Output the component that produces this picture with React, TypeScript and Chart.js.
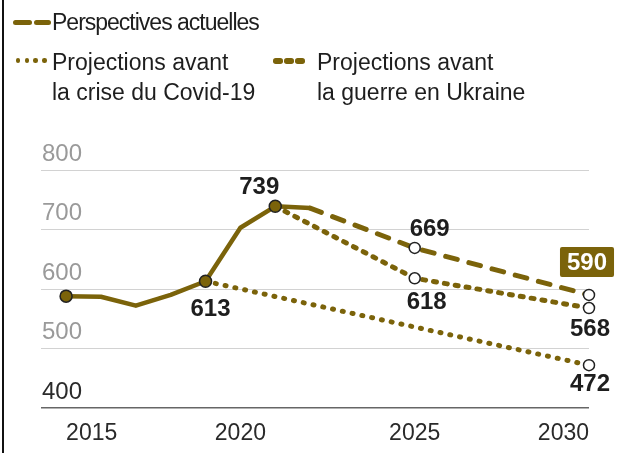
import React, { useEffect, useRef } from "react";
import { Chart, registerables } from "chart.js";

Chart.register(...registerables);

// ---------- data ----------
const historyYears = [2015, 2016, 2017, 2018, 2019, 2020, 2021, 2022];
const historyValues = [588, 587, 572, 590, 613, 703, 739, 736];
const currentYears = [2022, 2025, 2030];
const currentValues = [736, 669, 590];
const ukraineYears = [2021, 2025, 2030];
const ukraineValues = [739, 618, 568];
const covidYears = [2019, 2030];
const covidValues = [613, 472];
const xTickValues = [2015, 2020, 2025, 2030];
const yTickValues = [400, 500, 600, 700, 800];
const legendCurrent = "Perspectives actuelles";
const legendCovid = ["Projections avant", "la crise du Covid-19"];
const legendUkraine = ["Projections avant", "la guerre en Ukraine"];

// ---------- styles ----------
const OLIVE = "#7b630a";
const FONT = "'Liberation Sans', Arial, sans-serif";

// value labels: dataset index, point index, offsets, boxed
const labelDefs = [
  { ds: 0, i: 6, dx: -16, dy: -20, boxed: false },
  { ds: 0, i: 4, dx: 5, dy: 27, boxed: false },
  { ds: 1, i: 1, dx: 15, dy: -20, boxed: false },
  { ds: 2, i: 1, dx: 12, dy: 23, boxed: false },
  { ds: 1, i: 2, dx: -2, dy: -33, boxed: true },
  { ds: 2, i: 2, dx: 1, dy: 20, boxed: false },
  { ds: 3, i: 1, dx: 1, dy: 18, boxed: false },
];

const valueLabelPlugin = {
  id: "valueLabels",
  afterDatasetsDraw(chart: any) {
    const ctx = chart.ctx;
    ctx.save();
    ctx.font = `bold 24px ${FONT}`;
    ctx.textAlign = "center";
    ctx.textBaseline = "middle";
    for (const d of labelDefs) {
      const meta = chart.getDatasetMeta(d.ds);
      const el = meta.data[d.i];
      const raw: any = chart.data.datasets[d.ds].data[d.i];
      const text = String(raw.y);
      const x = el.x + d.dx;
      const y = el.y + d.dy;
      if (d.boxed) {
        const w = ctx.measureText(text).width + 14;
        const h = 30;
        ctx.fillStyle = OLIVE;
        ctx.beginPath();
        (ctx as any).roundRect ? (ctx as any).roundRect(x - w / 2, y - h / 2, w, h, 2) : ctx.rect(x - w / 2, y - h / 2, w, h);
        ctx.fill();
        ctx.fillStyle = "#ffffff";
        ctx.fillText(text, x, y + 1);
      } else {
        ctx.fillStyle = "#1e1e1e";
        ctx.fillText(text, x, y + 1);
      }
    }
    ctx.restore();
  },
};

function pts(xs: number[], ys: number[]) {
  return xs.map((x, k) => ({ x, y: ys[k] }));
}

export default function App() {
  const ref = useRef<HTMLCanvasElement | null>(null);

  useEffect(() => {
    if (!ref.current) return;
    const chart = new Chart(ref.current, {
      type: "line",
      data: {
        datasets: [
          {
            label: "Historique",
            data: pts(historyYears, historyValues),
            borderColor: OLIVE,
            borderWidth: 4.5,
            tension: 0,
            clip: false,
            borderJoinStyle: "round",
            pointRadius: [6, 0, 0, 0, 6, 0, 6, 0],
            pointBackgroundColor: OLIVE,
            pointBorderColor: "#222",
            pointBorderWidth: 1.5,
          },
          {
            label: legendCurrent,
            data: pts(currentYears, currentValues),
            borderColor: OLIVE,
            borderWidth: 5,
            borderDash: [12, 12],
            borderCapStyle: "round",
            tension: 0,
            clip: false,
            pointRadius: [0, 5.5, 5.5],
            pointBackgroundColor: "#fff",
            pointBorderColor: "#222",
            pointBorderWidth: 1.5,
          },
          {
            label: legendUkraine.join(" "),
            data: pts(ukraineYears, ukraineValues),
            borderColor: OLIVE,
            borderWidth: 5,
            borderDash: [3, 8],
            borderCapStyle: "round",
            tension: 0,
            clip: false,
            pointRadius: [0, 5.5, 5.5],
            pointBackgroundColor: "#fff",
            pointBorderColor: "#222",
            pointBorderWidth: 1.5,
          },
          {
            label: legendCovid.join(" "),
            data: pts(covidYears, covidValues),
            borderColor: OLIVE,
            borderWidth: 5,
            borderDash: [1, 9],
            borderCapStyle: "round",
            tension: 0,
            clip: false,
            pointRadius: [0, 5.5],
            pointBackgroundColor: "#fff",
            pointBorderColor: "#222",
            pointBorderWidth: 1.5,
          },
        ],
      },
      options: {
        animation: false,
        responsive: false,
        layout: { padding: { top: 170, left: 39, right: 31, bottom: 0 } },
        plugins: { legend: { display: false }, tooltip: { enabled: false } },
        scales: {
          x: {
            type: "linear",
            min: 2014.28,
            max: 2030,
            afterBuildTicks: (s: any) => {
              s.ticks = xTickValues.map((v) => ({ value: v }));
            },
            afterFit: (s: any) => {
              s.height = 45;
            },
            grid: { display: false, drawTicks: false },
            border: { display: false },
            ticks: {
              align: "inner",
              padding: 12,
              color: "#2a2a2a",
              font: { family: FONT, size: 23 },
              callback: (v: any) => String(v),
            },
          },
          y: {
            type: "linear",
            min: 400,
            max: 800,
            afterBuildTicks: (s: any) => {
              s.ticks = yTickValues.map((v) => ({ value: v }));
            },
            grid: {
              drawTicks: false,
              color: (c: any) => (c.tick && c.tick.value === 400 ? "#666" : "#d2d2d2"),
              lineWidth: (c: any) => (c.tick && c.tick.value === 400 ? 1.5 : 1),
            },
            border: { display: false },
            ticks: {
              mirror: true,
              padding: 1,
              labelOffset: -16,
              color: (c: any) => (c.tick && c.tick.value === 400 ? "#2a2a2a" : "#9a9a9a"),
              font: { family: FONT, size: 24 },
              callback: (v: any) => String(v),
            },
          },
        },
      },
      plugins: [valueLabelPlugin],
    });
    return () => chart.destroy();
  }, []);

  const textStyle: React.CSSProperties = {
    position: "absolute",
    fontFamily: FONT,
    fontSize: 23,
    lineHeight: "30px",
    color: "#1e1e1e",
    whiteSpace: "nowrap",
  };
  const bar = (left: number, top: number, w: number, h: number, r: number): React.CSSProperties => ({
    position: "absolute",
    left,
    top,
    width: w,
    height: h,
    borderRadius: r,
    background: OLIVE,
  });

  return (
    <div style={{ position: "fixed", left: 0, top: 0, width: 620, height: 453, background: "#fff", overflow: "hidden" }}>
      <canvas ref={ref} width={620} height={453} style={{ position: "absolute", left: 0, top: 0, display: "block" }} />
      <div style={{ position: "absolute", left: 2, top: 0, width: 2, height: 453, background: "#111" }} />
      {/* legend row 1 */}
      <div style={bar(13, 19.5, 18.5, 5.5, 2.75)} />
      <div style={bar(34, 19.5, 16.5, 5.5, 2.75)} />
      <div style={{ ...textStyle, left: 52, top: 7, letterSpacing: "-1px" }}>{legendCurrent}</div>
      {/* legend covid */}
      <div style={bar(15.5, 58, 4.5, 4.5, 2.25)} />
      <div style={bar(24.5, 58, 4.5, 4.5, 2.25)} />
      <div style={bar(33, 58, 4.5, 4.5, 2.25)} />
      <div style={bar(42, 58, 4.5, 4.5, 2.25)} />
      <div style={{ ...textStyle, left: 52, top: 47 }}>
        {legendCovid[0]}
        <br />
        {legendCovid[1]}
      </div>
      {/* legend ukraine */}
      <div style={bar(273, 58, 9.5, 5.5, 2.75)} />
      <div style={bar(284, 58, 9.5, 5.5, 2.75)} />
      <div style={bar(295, 58, 9.5, 5.5, 2.75)} />
      <div style={{ ...textStyle, left: 317, top: 47 }}>
        {legendUkraine[0]}
        <br />
        {legendUkraine[1]}
      </div>
    </div>
  );
}
